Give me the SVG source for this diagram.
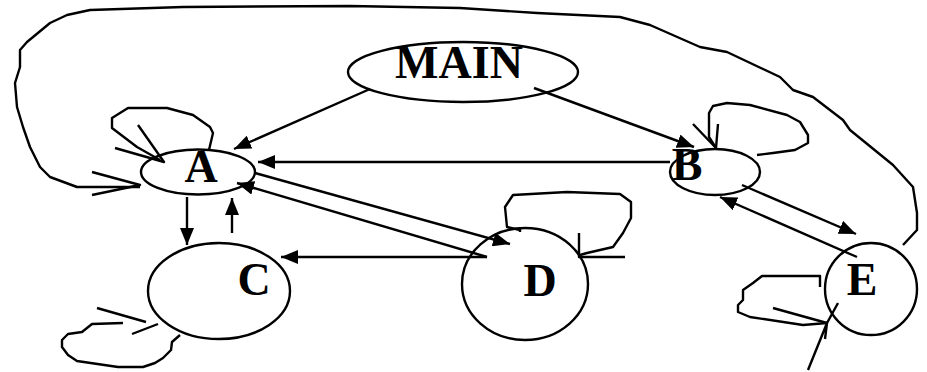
<svg xmlns="http://www.w3.org/2000/svg" width="927" height="372" viewBox="0 0 927 372">
  <defs>
    <marker id="arrow" markerUnits="userSpaceOnUse" markerWidth="18" markerHeight="14" refX="17" refY="7" orient="auto">
      <path d="M0,0 L17,7 L0,14 z" fill="#000"/>
    </marker>
  </defs>
  <style>
    .shape { fill: none; stroke: #000; stroke-width: 2.4; }
    .line { fill: none; stroke: #000; stroke-width: 2.4; stroke-linejoin: round; }
    .arrowed { marker-end: url(#arrow); }
    .label { font-family: "Liberation Serif", "Times New Roman", serif; font-weight: bold; font-size: 46px; fill: #000; text-anchor: middle; }
  </style>
  <rect width="927" height="372" fill="#fff"/>

  <g id="connectors">
    <!-- big loop from E round the top back into A -->
    <path class="line" d="M903,245 L917,230 L917,213 L913,187 L893,165 L850,130 L843,120 L813,97 L793,90 L780,77 L727,52 L700,47 L650,25 L620,17 L537,13 L460,8 L350,6 L183,7 L90,10 L67,15 L50,23 L27,42 L20,50 L20,67 L15,83 L17,107 L23,127 L30,147 L40,167 L50,177 L77,187 L140,187"/>
    <path class="line" d="M92,172 L140,185 L92,195"/>
    <!-- MAIN edges -->
    <path class="line arrowed" d="M370,89 L234,149"/>
    <path class="line arrowed" d="M534,88 L694,147"/>
    <!-- B to A -->
    <path class="line arrowed" d="M670,162 L258,162"/>
    <!-- A <-> D -->
    <path class="line arrowed" d="M255,173 L510,244"/>
    <path class="line arrowed" d="M487,257 L237,183"/>
    <!-- D to C -->
    <path class="line arrowed" d="M487,257 L281,257"/>
    <!-- A <-> C -->
    <path class="line arrowed" d="M187,197 L187,245"/>
    <path class="line arrowed" d="M232,233 L232,198"/>
    <!-- B <-> E -->
    <path class="line arrowed" d="M742,185 L856,234"/>
    <path class="line arrowed" d="M857,257 L720,197"/>
    <!-- A self loop -->
    <path class="line" d="M209,150 L213,133 L210,127 L193,115 L167,108 L128,108 L112,118 L112,128 L137,147 L160,160"/>
    <path class="line" d="M138,125 L164,162 L115,148"/>
    <!-- B self loop -->
    <path class="line" d="M757,155 L773,153 L795,150 L808,143 L808,135 L800,122 L787,115 L750,105 L727,103 L713,106 L709,113 L709,137 L716,148"/>
    <path class="line" d="M693,124 L716,148 L718,124"/>
    <!-- C self loop -->
    <path class="line" d="M180,335 L172,342 L171,350 L163,358 L155,363 L143,367 L118,367 L77,361 L68,355 L62,347 L62,340 L68,334 L82,332 L92,324 L123,323"/>
    <path class="line" d="M97,308 L146,322"/>
    <path class="line" d="M132,334 L158,324"/>
    <!-- D self loop -->
    <path class="line" d="M520,230 L507,227 L505,207 L513,195 L567,192 L620,194 L631,202 L631,218 L623,233 L613,247 L587,253 L580,255"/>
    <path class="line" d="M520,227 L520,232"/>
    <path class="line" d="M579,233 L579,257 L625,257"/>
    <!-- E self loop -->
    <path class="line" d="M820,287 L820,276 L762,276 L753,283 L743,290 L743,300 L738,305 L738,312 L750,317 L803,325 L827,323"/>
    <path class="line" d="M773,308 L827,323 L838,303"/>
    <path class="line" d="M808,370 L827,323 L825,339"/>
  </g>

  <g id="node-main">
    <ellipse class="shape" cx="463" cy="72" rx="115" ry="30"/>
    <text class="label" x="459" y="78">MAIN</text>
  </g>
  <g id="node-a">
    <ellipse class="shape" cx="198" cy="172" rx="57" ry="22.5"/>
    <text class="label" x="201" y="182">A</text>
  </g>
  <g id="node-b">
    <ellipse class="shape" cx="715" cy="172" rx="45" ry="23"/>
    <text class="label" x="687" y="180">B</text>
  </g>
  <g id="node-c">
    <ellipse class="shape" cx="219" cy="291" rx="71" ry="48"/>
    <text class="label" x="254" y="295">C</text>
  </g>
  <g id="node-d">
    <ellipse class="shape" cx="525" cy="284" rx="63" ry="56"/>
    <text class="label" x="540" y="296">D</text>
  </g>
  <g id="node-e">
    <ellipse class="shape" cx="871" cy="289" rx="46" ry="46"/>
    <text class="label" x="862" y="295">E</text>
  </g>
</svg>
